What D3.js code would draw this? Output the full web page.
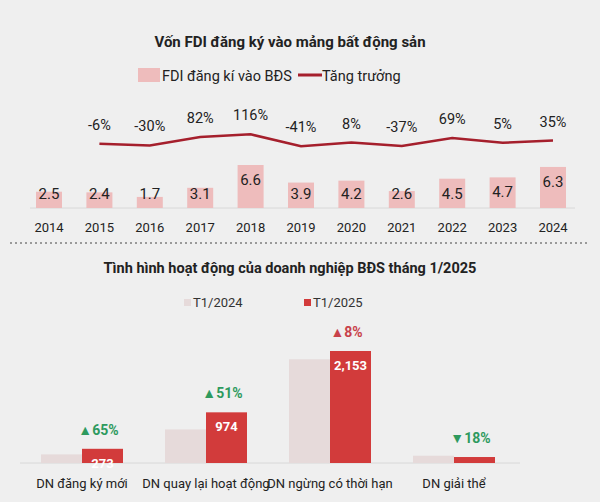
<!DOCTYPE html>
<html><head><meta charset="utf-8">
<script src="https://cdn.jsdelivr.net/npm/d3@7"></script>
<style>body{margin:0;background:#efefef}text{font-family:Roboto,"Liberation Sans",sans-serif}</style>
</head><body><svg id="c" width="600" height="502"></svg>
<script>
const years = ["2014","2015","2016","2017","2018","2019","2020","2021","2022","2023","2024"];
const fdi = [2.5,2.4,1.7,3.1,6.6,3.9,4.2,2.6,4.5,4.7,6.3];
const growth = [null,-6,-30,82,116,-41,8,-37,69,5,35];
const cats = ["DN đăng ký mới","DN quay lại hoạt động","DN ngừng có thời hạn","DN giải thể"];
const t2024 = [165,645,1994,140];
const t2025 = [273,974,2153,115];
const change = [65,51,8,-18];
const changeColor = ["#2e9a5e","#2e9a5e","#c8414a","#2e9a5e"];

const svg = d3.select("#c");
svg.append("rect").attr("width",600).attr("height",502).attr("fill","#efefef");

// top chart
svg.append("text").attr("x",290).attr("y",47).attr("text-anchor","middle")
  .attr("font-size",15).attr("font-weight","bold").attr("fill","#222").text("Vốn FDI đăng ký vào mảng bất động sản");
svg.append("rect").attr("x",138).attr("y",68).attr("width",22).attr("height",14).attr("fill","#eebcbc");
svg.append("text").attr("x",162).attr("y",81).attr("font-size",14.5).attr("fill","#222").text("FDI đăng kí vào BĐS");
svg.append("line").attr("x1",298).attr("x2",322).attr("y1",75).attr("y2",75).attr("stroke","#a51f2c").attr("stroke-width",3);
svg.append("text").attr("x",322).attr("y",81).attr("font-size",14.5).attr("fill","#222").text("Tăng trưởng");

const x1 = d3.scalePoint().domain(years).range([49,553]);
const yb = d3.scaleLinear().domain([0,6.6]).range([208,165]);
const yg = d3.scaleLinear().domain([-50,120]).range([147,134]);

svg.append("line").attr("x1",30).attr("x2",575).attr("y1",208).attr("y2",208).attr("stroke","#d8d8d8");
svg.selectAll(".fb").data(fdi).join("rect")
  .attr("x",(d,i)=>x1(years[i])-13).attr("width",26)
  .attr("y",d=>yb(d)).attr("height",d=>208-yb(d)).attr("fill","#eebcbc");
svg.selectAll(".fl").data(fdi).join("text")
  .attr("x",(d,i)=>x1(years[i])).attr("y",d=>Math.min(yb(d)+20,199))
  .attr("text-anchor","middle").attr("font-size",15).attr("fill","#222").text(d=>d.toFixed(1));
svg.selectAll(".yl").data(years).join("text")
  .attr("x",d=>x1(d)).attr("y",232).attr("text-anchor","middle").attr("font-size",13).attr("fill","#222").text(d=>d);

const gpts = growth.map((g,i)=>[years[i],g]).filter(d=>d[1]!==null);
svg.append("path").datum(gpts)
  .attr("d",d3.line().x(d=>x1(d[0])).y(d=>yg(d[1])))
  .attr("fill","none").attr("stroke","#a51f2c").attr("stroke-width",2.5);
svg.selectAll(".gl").data(gpts).join("text")
  .attr("x",d=>x1(d[0])).attr("y",d=>yg(d[1])-14).attr("text-anchor","middle")
  .attr("font-size",14.5).attr("fill","#222").text(d=>d[1]+"%");

svg.append("line").attr("x1",10).attr("x2",590).attr("y1",243).attr("y2",243)
  .attr("stroke","#444").attr("stroke-dasharray","2,3");

// bottom chart
svg.append("text").attr("x",290).attr("y",273).attr("text-anchor","middle")
  .attr("font-size",14.5).attr("font-weight","bold").attr("fill","#222").text("Tình hình hoạt động của doanh nghiệp BĐS tháng 1/2025");
svg.append("rect").attr("x",184).attr("y",299).attr("width",7).attr("height",7).attr("fill","#e6dada");
svg.append("text").attr("x",193).attr("y",307).attr("font-size",13).attr("fill","#333").text("T1/2024");
svg.append("rect").attr("x",304).attr("y",299).attr("width",7).attr("height",7).attr("fill","#d23b3b");
svg.append("text").attr("x",313).attr("y",307).attr("font-size",13).attr("fill","#333").text("T1/2025");

const x0 = d3.scalePoint().domain(cats).range([82,454]);
const bw = 41;
const yv = d3.scaleLinear().domain([0,2153]).range([463,351]);
svg.append("line").attr("x1",20).attr("x2",520).attr("y1",463).attr("y2",463).attr("stroke","#d8d8d8");
svg.selectAll(".b1").data(t2024).join("rect")
  .attr("x",(d,i)=>x0(cats[i])-bw).attr("width",bw).attr("y",d=>yv(d)).attr("height",d=>463-yv(d)).attr("fill","#e6dada");
svg.selectAll(".b2").data(t2025).join("rect")
  .attr("x",(d,i)=>x0(cats[i])).attr("width",bw).attr("y",d=>yv(d)).attr("height",d=>463-yv(d)).attr("fill","#d23b3b");
svg.selectAll(".vl").data(t2025).join("text").filter(d=>d>200)
  .attr("x",(d,i)=>x0(cats[i])+bw/2).attr("y",d=>yv(d)+19).attr("text-anchor","middle")
  .attr("font-size",13).attr("font-weight","bold").attr("fill","#fff").text(d=>d3.format(",")(d));
svg.selectAll(".pl").data(change).join("text")
  .attr("x",(d,i)=>x0(cats[i])+bw/2-4).attr("y",(d,i)=>yv(t2025[i])-14).attr("text-anchor","middle")
  .attr("font-size",14).attr("font-weight","bold").attr("fill",(d,i)=>changeColor[i])
  .text(d=>(d>=0?"▲":"▼")+Math.abs(d)+"%");
svg.selectAll(".cl").data(cats).join("text")
  .attr("x",d=>x0(d)).attr("y",488).attr("text-anchor","middle").attr("font-size",13).attr("fill","#222").text(d=>d);
</script></body></html>
